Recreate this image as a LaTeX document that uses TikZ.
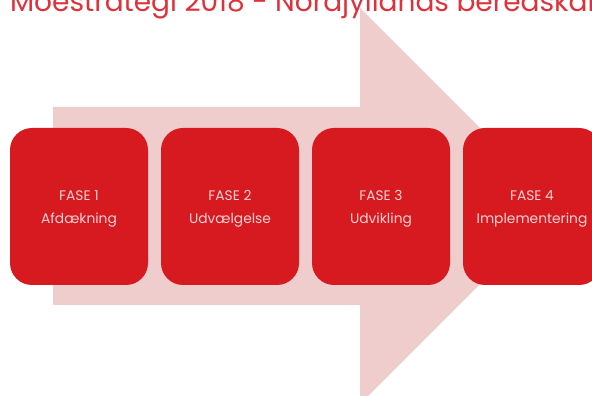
\documentclass[tikz,border=0pt]{standalone}
\usepackage{fontspec}
\setmainfont{Poppins}
\definecolor{boxred}{HTML}{D71920}
\definecolor{arrowpink}{HTML}{F0CDCD}
\definecolor{textpink}{HTML}{F6D2D3}
\definecolor{titlered}{HTML}{E0303A}
\tikzset{
  phasebox/.style={fill=boxred, draw=none, rounded corners=22pt,
    minimum width=138pt, minimum height=157pt, inner sep=0pt},
  phasetext/.style={text=textpink, align=center, inner sep=0pt,
    font=\fontsize{13.8}{23}\selectfont},
}
\begin{document}
\begin{tikzpicture}[x=1pt,y=1pt]
\useasboundingbox (0,0) rectangle (592,396);
\fill[white] (0,0) rectangle (592,396);
% title (cut off at top)
\node[anchor=base west, inner sep=0pt, text=titlered, font=\fontsize{28}{30}\selectfont] (title) at (-8,384.5) {r Moestrategi 2018 - Nordjyllands beredskab};
% big arrow
\fill[arrowpink] (53,289) -- (360,289) -- (360,388) -- (558,190) -- (360,-8) -- (360,91) -- (53,91) -- cycle;
% boxes
\node[phasebox] (f1) at (79,189.5) {};
\node[phasebox] (f2) at (230,189.5) {};
\node[phasebox] (f3) at (381,189.5) {};
\node[phasebox] (f4) at (532,189.5) {};
\node[phasetext] (t1) at ([yshift=-2pt]f1.center) {FASE 1\\Afdækning};
\node[phasetext] (t2) at ([yshift=-2pt]f2.center) {FASE 2\\Udvælgelse};
\node[phasetext] (t3) at ([yshift=-2pt]f3.center) {FASE 3\\Udvikling};
\node[phasetext] (t4) at ([yshift=-2pt]f4.center) {FASE 4\\Implementering};
\end{tikzpicture}
\end{document}
